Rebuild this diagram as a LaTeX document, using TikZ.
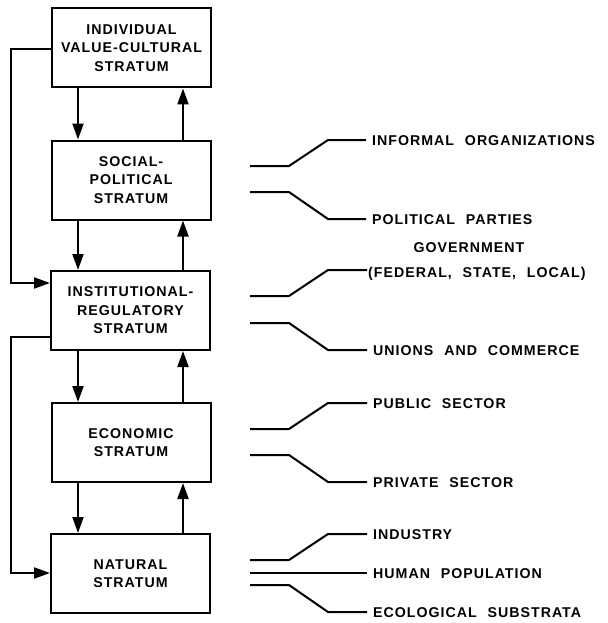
\documentclass[tikz,border=0pt]{standalone}
\usepackage{fontspec}
\setmainfont{Liberation Sans}[LetterSpace=7,WordSpace=2.2]
\usetikzlibrary{arrows.meta}
\begin{document}
\begin{tikzpicture}[x=1pt,y=-1pt,
  every node/.style={font=\bfseries\fontsize{14.2}{18.5}\selectfont},
  stratum/.style={draw,line width=2pt,minimum width=159pt,minimum height=79pt,align=center,inner sep=0pt},
  flow/.style={line width=2pt,-{Triangle[length=16pt,width=11pt]}},
  brk/.style={line width=2pt},
  lbl/.style={anchor=west,inner sep=0pt}]
\useasboundingbox (0,0) rectangle (607,623);
\node[stratum] (b1) at (131.5,48) {INDIVIDUAL\\VALUE-CULTURAL\\STRATUM};
\node[stratum] (b2) at (131,180) {SOCIAL-\\POLITICAL\\STRATUM};
\node[stratum] (b3) at (130.5,310.5) {INSTITUTIONAL-\\REGULATORY\\STRATUM};
\node[stratum] (b4) at (131,442.5) {ECONOMIC\\STRATUM};
\node[stratum] (b5) at (130.5,573.5) {NATURAL\\STRATUM};
% vertical arrows
\foreach \a/\b in {b1/b2,b2/b3,b3/b4,b4/b5}{
  \draw[flow] (\a.south -| 78,0) -- (\b.north -| 78,0);
  \draw[flow] (\b.north -| 183,0) -- (\a.south -| 183,0);
}
% feedback loops
\coordinate (l1) at (11,49);
\coordinate (l2) at (11,283);
\coordinate (l3) at (11,337);
\coordinate (l4) at (11,573);
\draw[flow] (b1.west |- l1) -- (l1) -- (l2) -- (b3.west |- l2);
\draw[flow] (b3.west |- l3) -- (l3) -- (l4) -- (b5.west |- l4);
% labels
\node[lbl] (t1) at (372,141) {INFORMAL ORGANIZATIONS};
\node[lbl] (t2) at (372,220) {POLITICAL PARTIES};
\node (g1) at (469,248) {GOVERNMENT};
\node[lbl] (t3) at (368,274) {(FEDERAL, STATE, LOCAL)};
\node[lbl] (t4) at (373,351) {UNIONS AND COMMERCE};
\node[lbl] (t5) at (373,404) {PUBLIC SECTOR};
\node[lbl] (t6) at (373,483) {PRIVATE SECTOR};
\node[lbl] (t7) at (373,535) {INDUSTRY};
\node[lbl] (t8) at (373,574) {HUMAN POPULATION};
\node[lbl] (t9) at (373,613) {ECOLOGICAL SUBSTRATA};
% brackets
\foreach \t/\ys/\ye in {t1/166/140,t2/192/219,t4/323/350,t5/429/403,t6/455/482,t7/560/534,t9/585/612}{
  \draw[brk] (250,\ys) -- (289,\ys) -- (328,\ye) -- ([xshift=-6pt]\t.west |- 0,\ye);
}
\draw[brk] (250,296) -- (289,296) -- (328,270) -- ([xshift=-1pt,yshift=4pt]t3.west);
\draw[brk] (250,573) -- ([xshift=-6pt]t8.west |- 0,573);
\end{tikzpicture}
\end{document}
